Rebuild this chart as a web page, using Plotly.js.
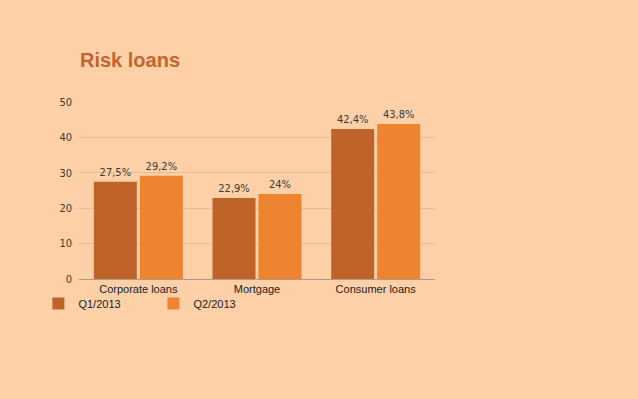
<!DOCTYPE html>
<html>
<head>
<meta charset="utf-8">
<script src="https://cdn.plot.ly/plotly-3.0.1.min.js"></script>
<style>html,body{margin:0;padding:0;background:#FDD0A8;}#chart{width:638px;height:399px;}
#chart text.bartext, #chart .ytick text { font-stretch: condensed; }
</style>
</head>
<body>
<div id="chart"></div>
<script>
const categories = ["Corporate loans", "Mortgage", "Consumer loans"];
const seriesNames = ["Q1/2013", "Q2/2013"];
const q1Values = [27.5, 22.9, 42.4];
const q2Values = [29.2, 24, 43.8];
const yTicks = [0, 10, 20, 30, 40, 50];

const fmt = v => String(v).replace('.', ',') + '%';
const labelFont = {family: "DejaVu Sans Condensed, DejaVu Sans, sans-serif", size: 11, color: "#3a3a3a"};

const traces = [
  {type: 'bar', name: seriesNames[0], x: categories, y: q1Values, text: q1Values.map(fmt),
   textposition: 'outside', textfont: labelFont, cliponaxis: false,
   marker: {color: '#C0632A'}, hoverinfo: 'skip'},
  {type: 'bar', name: seriesNames[1], x: categories, y: q2Values, text: q2Values.map(fmt),
   textposition: 'outside', textfont: labelFont, cliponaxis: false,
   marker: {color: '#EE8330'}, hoverinfo: 'skip'}
];

const layout = {
  width: 638, height: 399,
  paper_bgcolor: '#FDD0A8', plot_bgcolor: '#FDD0A8',
  margin: {l: 79, r: 203, t: 102, b: 120},
  title: {text: '<b>Risk loans</b>', font: {family: 'Liberation Sans, Arial, sans-serif', size: 20, color: '#C4652E'},
          x: 80/638, xref: 'container', xanchor: 'left', y: 1 - 60/399, yref: 'container', yanchor: 'middle'},
  barmode: 'group', bargap: 0.225, bargroupgap: 0.065,
  xaxis: {tickfont: {family: 'Liberation Sans, Arial, sans-serif', size: 11, color: '#222'},
          showline: true, linecolor: '#B39A88', linewidth: 1, ticks: '', fixedrange: true},
  yaxis: {range: [0, 50], tickvals: yTicks, ticktext: yTicks.map(String),
          tickfont: labelFont, gridcolor: '#EDBA92', gridwidth: 1, zeroline: false,
          ticks: '', ticklabelstandoff: 6, fixedrange: true},
  showlegend: true,
  legend: {orientation: 'h', x: -0.114, xanchor: 'left', y: -0.057, yanchor: 'top',
           entrywidth: 70, entrywidthmode: 'pixels',
           font: {family: 'Liberation Sans, Arial, sans-serif', size: 11, color: '#222'},
           bgcolor: 'rgba(0,0,0,0)', itemclick: false}
};

Plotly.newPlot('chart', traces, layout, {displayModeBar: false, staticPlot: true});
</script>
</body>
</html>
